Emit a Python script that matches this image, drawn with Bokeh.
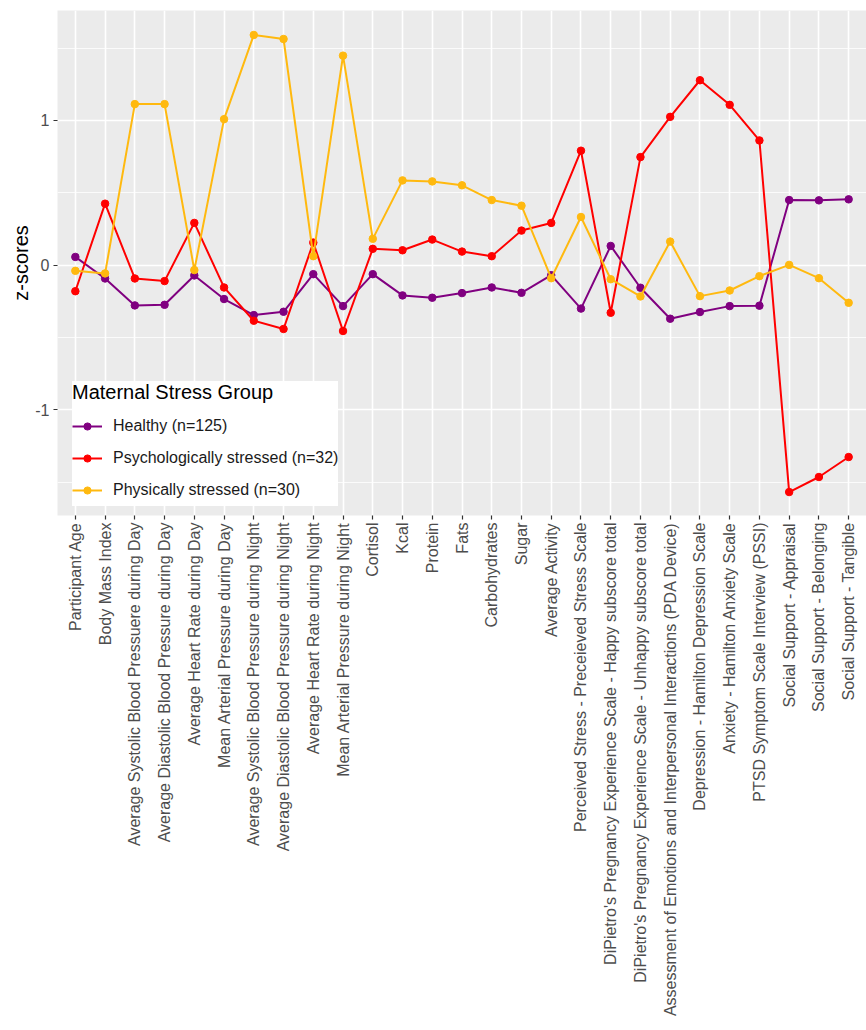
import math
from bokeh.plotting import figure
from bokeh.models import FactorRange, Range1d, FixedTicker, Legend, LegendItem
from bokeh.embed import file_html
from bokeh.resources import INLINE

categories = [
    "Participant Age",
    "Body Mass Index",
    "Average Systolic Blood Pressuere during Day",
    "Average Diastolic Blood Pressure during Day",
    "Average Heart Rate during Day",
    "Mean Arterial Pressure during Day",
    "Average Systolic Blood Pressure during Night",
    "Average Diastolic Blood Pressure during Night",
    "Average Heart Rate during Night",
    "Mean Arterial Pressure during Night",
    "Cortisol",
    "Kcal",
    "Protein",
    "Fats",
    "Carbohydrates",
    "Sugar",
    "Average Activity",
    "Perceived Stress - Preceieved Stress Scale",
    "DiPietro's Pregnancy Experience Scale - Happy subscore total",
    "DiPietro's Pregnancy Experience Scale - Unhappy subscore total",
    "Assessment of Emotions and Interpersonal Interactions (PDA Device)",
    "Depression - Hamilton Depression Scale",
    "Anxiety - Hamilton Anxiety Scale",
    "PTSD Symptom Scale Interview (PSSI)",
    "Social Support - Appraisal",
    "Social Support - Belonging",
    "Social Support - Tangible",
]

healthy = [0.057, -0.092, -0.278, -0.274, -0.071, -0.234, -0.345, -0.322, -0.062, -0.283,
           -0.062, -0.209, -0.225, -0.193, -0.154, -0.191, -0.069, -0.300, 0.133, -0.156,
           -0.370, -0.324, -0.283, -0.280, 0.450, 0.448, 0.455]
psych = [-0.180, 0.425, -0.092, -0.110, 0.292, -0.154, -0.384, -0.441, 0.156, -0.455,
         0.113, 0.103, 0.177, 0.094, 0.062, 0.239, 0.292, 0.791, -0.329, 0.747,
         1.025, 1.278, 1.108, 0.862, -1.568, -1.464, -1.326]
phys = [-0.039, -0.057, 1.113, 1.113, -0.034, 1.009, 1.591, 1.563, 0.062, 1.448,
        0.182, 0.586, 0.579, 0.552, 0.450, 0.411, -0.090, 0.333, -0.097, -0.216,
        0.163, -0.214, -0.175, -0.076, 0.002, -0.090, -0.260]

series_names = ["Healthy (n=125)", "Psychologically stressed (n=32)", "Physically stressed (n=30)"]
series_values = [healthy, psych, phys]
series_colors = ["#800080", "#FF0000", "#FFB90F"]

y_ticks = [-1, 0, 1]
y_tick_labels = {-1: "-1", 0: "0", 1: "1"}
y_minor = [-1.5, -0.5, 0.5, 1.5]

FONT = "Liberation Sans"

p = figure(
    frame_width=809, frame_height=505,
    x_range=FactorRange(factors=categories, range_padding=0.1, range_padding_units="absolute"),
    y_range=Range1d(-1.73, 1.76),
    output_backend="svg", toolbar_location=None,
    min_border_top=10, min_border_right=0, min_border_left=57, min_border_bottom=0,
)
p.background_fill_color = "#EBEBEB"
p.border_fill_color = "white"
p.outline_line_color = None

# grids
p.xgrid.grid_line_color = "white"
p.xgrid.grid_line_width = 1.6
p.ygrid.grid_line_color = "white"
p.ygrid.grid_line_width = 1.6
p.ygrid.minor_grid_line_color = "white"
p.ygrid.minor_grid_line_width = 0.8

p.yaxis.ticker = FixedTicker(ticks=y_ticks, minor_ticks=y_minor)
p.yaxis.major_label_overrides = y_tick_labels

for ax in (p.xaxis[0], p.yaxis[0]):
    ax.axis_line_color = None
    ax.major_tick_line_color = "#333333"
    ax.major_tick_line_width = 1.2
    ax.major_tick_in = 0
    ax.major_tick_out = 4
    ax.minor_tick_line_color = None
    ax.major_label_text_font = FONT
    ax.major_label_text_font_size = "16px"
    ax.major_label_text_color = "#4D4D4D"
    ax.major_label_standoff = 3

p.xaxis.major_label_orientation = math.pi / 2
p.yaxis.major_label_standoff = 4
p.yaxis.axis_label = "z-scores"
p.yaxis.axis_label_text_font = FONT
p.yaxis.axis_label_text_font_size = "20px"
p.yaxis.axis_label_text_font_style = "normal"
p.yaxis.axis_label_text_color = "black"
p.yaxis.axis_label_standoff = 0

items = []
for name, vals, col in zip(series_names, series_values, series_colors):
    ln = p.line(categories, vals, line_color=col, line_width=2)
    sc = p.scatter(categories, vals, size=7.5, fill_color=col, line_color=col)
    items.append(LegendItem(label=name, renderers=[ln, sc]))

legend = Legend(items=items, location=(15, 9))
legend.title = "Maternal Stress Group"
legend.title_text_font = FONT
legend.title_text_font_size = "20px"
legend.title_text_font_style = "normal"
legend.title_text_color = "black"
legend.title_standoff = 6
legend.label_text_font = FONT
legend.label_text_font_size = "16px"
legend.label_text_color = "#1A1A1A"
legend.background_fill_color = "white"
legend.background_fill_alpha = 1
legend.border_line_color = None
legend.padding = 15
legend.margin = 0
legend.spacing = 0
legend.glyph_width = 30
legend.glyph_height = 18
legend.label_height = 32
legend.label_standoff = 11
p.add_layout(legend, "center")

open("out.html", "w").write(file_html(p, INLINE))
